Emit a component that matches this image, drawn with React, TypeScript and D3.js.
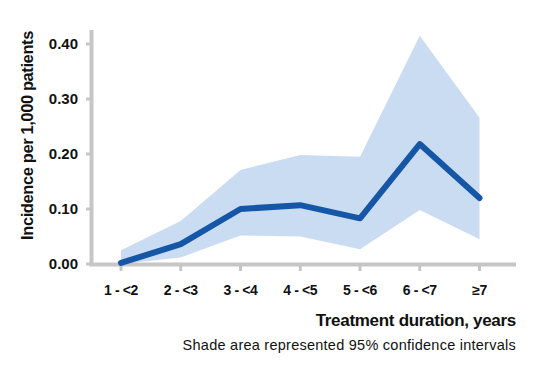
import React from "react";
import * as d3 from "d3";

const categories = ["1 - <2", "2 - <3", "3 - <4", "4 - <5", "5 - <6", "6 - <7", "≥7"];
const incidence = [0.002, 0.036, 0.1, 0.107, 0.083, 0.218, 0.12];
const upperCI = [0.025, 0.078, 0.171, 0.198, 0.195, 0.415, 0.266];
const lowerCI = [0.0, 0.012, 0.052, 0.05, 0.027, 0.098, 0.045];
const yTicks = [0, 0.1, 0.2, 0.3, 0.4];

const W = 540;
const H = 375;
const FONT = "'Liberation Sans', Arial, Helvetica, sans-serif";

export default function App() {
  const x = d3.scalePoint<string>().domain(categories).range([121, 479.5]);
  const y = d3.scaleLinear().domain([0, 0.4]).range([264, 44]);

  const rows = categories.map((c, i) => ({ c, v: incidence[i], lo: lowerCI[i], hi: upperCI[i] }));

  const area = d3
    .area<(typeof rows)[number]>()
    .x((d) => x(d.c) as number)
    .y0((d) => y(d.lo))
    .y1((d) => y(d.hi));
  const line = d3
    .line<(typeof rows)[number]>()
    .x((d) => x(d.c) as number)
    .y((d) => y(d.v));

  const axisColor = "#c6c6c6";

  return (
    <svg
      width={W}
      height={H}
      style={{ position: "absolute", left: 0, top: 0, background: "#fff" }}
      fontFamily={FONT}
    >
      <path d={area(rows) ?? ""} fill="#cadcf2" />
      {/* y axis */}
      <line x1={91.5} x2={91.5} y1={30} y2={265.5} stroke={axisColor} strokeWidth={4} />
      {yTicks.map((t) => (
        <g key={t}>
          <line x1={86} x2={91} y1={y(t)} y2={y(t)} stroke={axisColor} strokeWidth={3} />
          <text
            x={78}
            y={y(t)}
            dy="0.36em"
            textAnchor="end"
            fontSize={15}
            fontWeight="bold"
            fill="#111"
          >
            {d3.format(".2f")(t)}
          </text>
        </g>
      ))}
      {/* x axis */}
      <line x1={89.5} x2={516} y1={264.5} y2={264.5} stroke={axisColor} strokeWidth={4} />
      {categories.map((c) => (
        <g key={c}>
          <line x1={x(c)} x2={x(c)} y1={265} y2={271} stroke={axisColor} strokeWidth={3} />
          <text
            x={x(c)}
            y={295}
            textAnchor="middle"
            fontSize={14}
            fontWeight="bold"
            fill="#111"
            letterSpacing={-0.4}
          >
            {c}
          </text>
        </g>
      ))}
      <path
        d={line(rows) ?? ""}
        fill="none"
        stroke="#1557a6"
        strokeWidth={6}
        strokeLinecap="round"
        strokeLinejoin="round"
      />
      <text
        x={516}
        y={326}
        textAnchor="end"
        fontSize={17}
        fontWeight="bold"
        fill="#111"
        letterSpacing={-0.3}
      >
        Treatment duration, years
      </text>
      <text x={516} y={350} textAnchor="end" fontSize={14.5} fill="#111" letterSpacing={0.25}>
        Shade area represented 95% confidence intervals
      </text>
      <text
        transform="translate(33,135.5) rotate(-90)"
        textAnchor="middle"
        fontSize={16.5}
        fontWeight="bold"
        fill="#111"
        letterSpacing={-0.4}
      >
        Incidence per 1,000 patients
      </text>
    </svg>
  );
}
